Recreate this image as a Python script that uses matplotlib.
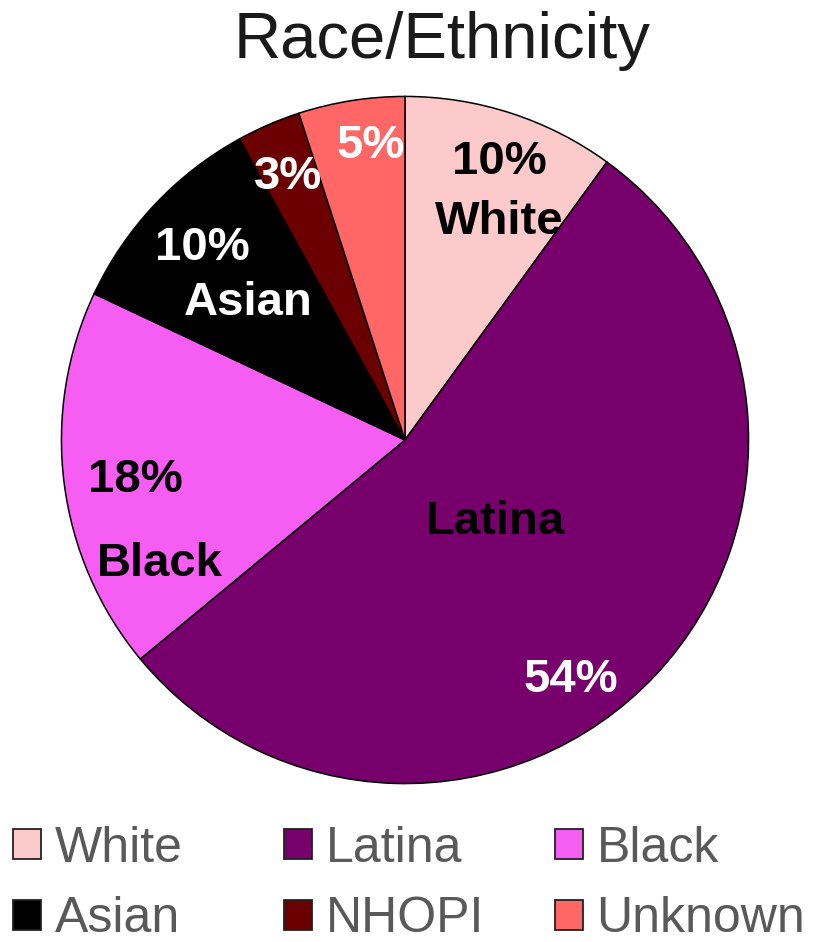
"""
Race/Ethnicity pie chart
"""
import matplotlib
matplotlib.use("Agg")
import matplotlib.pyplot as plt
from matplotlib.patches import Patch

plt.rcParams['font.family'] = ['Liberation Sans', 'DejaVu Sans']

groups = ["White", "Latina", "Black", "Asian", "NHOPI", "Unknown"]
shares = [10, 54, 18, 10, 3, 5]
colors = ["#FCCACA", "#78006C", "#F65DF2", "#000000", "#6B0000", "#FF6666"]

# label text per slice: (text, colour, x, y) in pie units
labels = [
    ("10%", "black", 0.275, 0.81),
    ("White", "black", 0.275, 0.635),
    ("5%", "white", -0.10, 0.855),
    ("3%", "white", -0.34, 0.765),
    ("10%", "white", -0.59, 0.56),
    ("Asian", "white", -0.455, 0.40),
    ("18%", "black", -0.785, -0.115),
    ("Black", "black", -0.715, -0.36),
    ("Latina", "black", 0.262, -0.238),
    ("54%", "white", 0.482, -0.70),
]

fig = plt.figure(figsize=(8.16, 9.42), dpi=100)
ax = fig.add_axes([58 / 816, 155 / 942, 694 / 816, 694 / 942])
ax.pie(shares, colors=colors, startangle=90, counterclock=False,
       wedgeprops=dict(edgecolor="black", linewidth=1.1))
ax.set_xlim(-1.01, 1.01)
ax.set_ylim(-1.01, 1.01)
ax.set_aspect("equal")

for txt, c, x, y in labels:
    ax.text(x, y, txt, color=c, fontsize=34, fontweight="bold",
            ha="center", va="center")

fig.text(0.542, 0.9384, "Race/Ethnicity", fontsize=47, color="#1a1a1a",
         ha="center", va="baseline")

# one small legend per column: rows are White/Latina/Black, Asian/NHOPI/Unknown
col_x = [13, 284, 555]
for col in range(3):
    items = [col, col + 3]
    handles = [Patch(facecolor=colors[i], edgecolor="#222222", linewidth=1.3,
                     label=groups[i]) for i in items]
    fig.legend(handles=handles, loc="center left",
               bbox_to_anchor=(col_x[col] / 816, 1 - 884 / 942),
               frameon=False, fontsize=36, labelcolor="#595959",
               borderpad=0, borderaxespad=0,
               handlelength=0.55, handleheight=0.55, handletextpad=0.28,
               labelspacing=0.5)

plt.savefig("out.png", dpi=100)
